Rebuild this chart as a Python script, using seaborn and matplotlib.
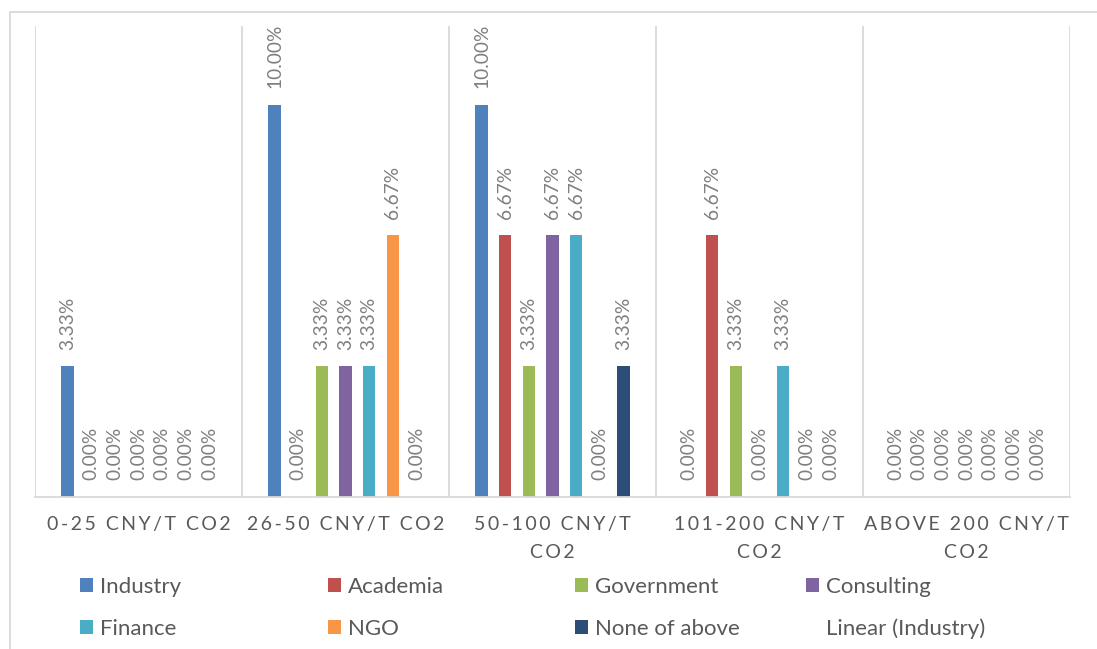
import numpy as np
import pandas as pd
import matplotlib.pyplot as plt
import seaborn as sns
from matplotlib.patches import Patch, Rectangle
from matplotlib.lines import Line2D

# price ranges (x categories)
ranges = ["0-25 CNY/T CO2", "26-50 CNY/T CO2", "50-100 CNY/T\nCO2",
          "101-200 CNY/T\nCO2", "ABOVE 200 CNY/T\nCO2"]

sectors = ["Industry", "Academia", "Government", "Consulting",
           "Finance", "NGO", "None of above"]

# share of respondents (%) per sector, one value per range
industry = [3.33, 10.00, 10.00, 0.00, 0.00]
academia = [0.00, 0.00, 6.67, 6.67, 0.00]
government = [0.00, 3.33, 3.33, 3.33, 0.00]
consulting = [0.00, 3.33, 6.67, 0.00, 0.00]
finance = [0.00, 3.33, 6.67, 3.33, 0.00]
ngo = [0.00, 6.67, 0.00, 0.00, 0.00]
none_of_above = [0.00, 0.00, 3.33, 0.00, 0.00]

colors = ["#4F81BD", "#C0504D", "#9BBB59", "#8064A2",
          "#4BACC6", "#F79646", "#2C4D75"]

series = [industry, academia, government, consulting, finance, ngo, none_of_above]
rows = []
for name, vals in zip(sectors, series):
    for r, v in zip(ranges, vals):
        rows.append({"range": r, "sector": name, "share": v})
df = pd.DataFrame(rows)

sns.set_style("white")
plt.rcParams["font.family"] = ["Lato", "DejaVu Sans"]

W, H = 1097, 649
fig = plt.figure(figsize=(W / 100, H / 100), dpi=100)
ax = fig.add_axes([35 / W, 1 - 497 / H, (1070 - 35) / W, (497 - 26) / H])

sns.barplot(
    data=df,
    x="range",
    y="share",
    hue="sector",
    order=ranges,
    hue_order=sectors,
    palette=colors,
    saturation=1,
    width=0.8,
    gap=0.48,
    linewidth=0,
    legend=False,
    ax=ax
)

#data labels
for cont in ax.containers:
    ax.bar_label(
        cont,
        labels=[f"{b.get_height():.2f}%" for b in cont],
        rotation=90,
        padding=12,
        color="#7F7F7F",
        fontsize=13.8
    )

ax.set_ylim(0, 12)
ax.set_xlim(-0.5, 4.5)
ax.set_yticks([])
ax.set_xlabel("")
ax.set_ylabel("")

#letter spaced tick labels
def spaced(s):
    return "\n".join("\u2009".join(list(line)) for line in s.split("\n"))

ax.set_xticks(range(len(ranges)), labels=[spaced(r) for r in ranges])
ax.tick_params(axis="x", length=0, pad=14, labelsize=14, labelcolor="#595959")
for t in ax.get_xticklabels():
    t.set_linespacing(1.75)

ax.set_xticks(np.arange(-0.5, 5, 1), minor=True)
ax.tick_params(axis="x", which="minor", length=0)
ax.grid(which="minor", axis="x", color="#D9D9D9", lw=1.3)
ax.grid(which="major", visible=False)

for side in ["top", "right", "left"]:
    ax.spines[side].set_visible(False)
ax.spines["bottom"].set_color("#D9D9D9")
ax.spines["bottom"].set_linewidth(1.3)

#chart frame
fig.add_artist(Rectangle((10 / W, -0.1), 1.2, 1.1 - 12 / H,
                         transform=fig.transFigure, fill=False,
                         edgecolor="#D9D9D9", lw=1.3))

#legend, one block per column
handles = [Patch(facecolor=c, edgecolor="none") for c in colors]
handles.append(Line2D([], [], color="none"))
labels = sectors + ["Linear (Industry)"]
col_x = [80, 328, 575, 806]
for i, x in enumerate(col_x):
    fig.legend(
        [handles[i], handles[i + 4]],
        [labels[i], labels[i + 4]],
        loc="center left",
        bbox_to_anchor=(x / W, 1 - 608 / H),
        frameon=False,
        fontsize=16,
        labelcolor="#595959",
        handlelength=0.6,
        handleheight=0.6,
        handletextpad=0.3,
        labelspacing=1.0,
        borderpad=0,
        borderaxespad=0
    )

plt.savefig("out.png", dpi=100)
